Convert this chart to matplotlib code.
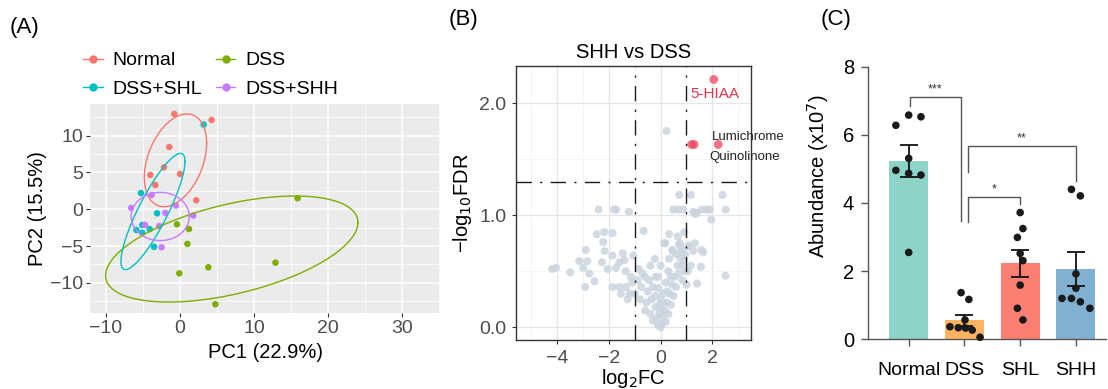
import numpy as np
import matplotlib
matplotlib.use('Agg')
import matplotlib.pyplot as plt
from matplotlib.lines import Line2D

plt.rcParams['font.family'] = ['Liberation Sans', 'DejaVu Sans']

# ---------------- Panel A data (PCA) ----------------
groups = ['Normal', 'DSS', 'DSS+SHL', 'DSS+SHH']
group_colors = ['#F8766D', '#7CAE00', '#00BFC4', '#C77CFF']
normal_pc1 = [-0.77, 4.28, -1.44, -2.16, 0.0, -4.0, -3.33, 2.2]
normal_pc2 = [12.95, 12.13, 8.46, 5.7, 4.8, 4.66, 3.3, 1.22]
dss_pc1 = [15.9, -0.4, 1.22, 1.0, 12.9, 3.83, -0.09, 4.78]
dss_pc2 = [1.5, -2.04, -2.68, -4.7, -7.25, -7.88, -8.7, -12.9]
shl_pc1 = [3.2, -5.27, -3.1, -5.1, -5.9, -5.1, -4.1, -3.5]
shl_pc2 = [11.5, 2.2, -0.55, -2.13, -2.8, -3.2, -2.7, -5.1]
shh_pc1 = [-6.6, -3.83, -1.98, -0.54, 1.8, -4.73, -2.8, -2.48]
shh_pc2 = [0.18, 1.94, -0.5, 0.5, -0.86, -2.13, -2.27, -5.17]
# ellipse parameters (centre, half extents, correlation)
ell_cx = [-0.61, 7.0, -3.65, -2.67]
ell_cy = [6.65, -5.4, -0.3, -0.98]
ell_ax = [4.21, 17.05, 4.33, 3.93]
ell_ay = [6.3, 7.2, 7.9, 3.28]
ell_rho = [0.37, 0.5, 0.86, 0.0]
pc1_label = 'PC1 (22.9%)'
pc2_label = 'PC2 (15.5%)'

# ---------------- Panel B data (volcano) ----------------
grey_fc = [-2.4, -1.8, -1.72, -1.23, 0.49, 0.68, 0.87, 1.26, 1.39, 1.59, 1.78, 1.91, 2.52,
           0.72, 1.17, 2.40, 1.96, 1.34, 0.23,
           -4.2, -4.05, -3.5, -3.15, -3.0, -2.9, -2.84, -2.76, -2.56, -2.92,
           -2.47, -2.18, -1.86, -2.22, -2.17, -2.27, -1.87, -1.6, -2.05, -1.73,
           -1.86, -1.6, -1.34, -1.54, -1.28, -1.47, -1.35, -1.4, -1.15, -1.2,
           -0.66, -1.06, -0.85, -0.7, -0.6, -0.45, -0.22, -0.9, -1.1, -1.0, -0.75, -0.5, -0.3,
           -0.8, -0.55, -0.35, -0.6, -0.4, -0.2, -0.3, -0.15, -0.1, 0.0, 0.05, -0.05, 0.1, 0.2,
           0.15, 0.3, 0.25, 0.4, 0.35, 0.5, 0.45, 0.6, 0.55, 0.7, 0.65, 0.8, 0.75, 0.9, 0.85,
           0.95, 0.1, -0.1, 0.0, -0.2, 0.2, 0.3, 0.0, -0.4, -0.1, -0.05, 0.05, 0.1, -0.2, 0.25,
           0.4, 0.6, 0.8,
           0.33, 0.18, 0.14, 0.48, 0.67, 0.71, 0.92, 1.09, 1.27, 1.58, 1.56, 1.41, 2.51, 1.17,
           1.65, 0.45, 0.81, 0.33, 1.07, 1.33, 0.75, 0.95, 1.05, 1.0]
grey_fdr = [1.05, 1.05, 1.05, 1.03, 1.05, 1.05, 1.05, 1.03, 1.02, 1.05, 1.05, 1.05, 1.05,
            1.18, 1.18, 1.18, 0.96, 1.01, 1.75,
            0.52, 0.53, 0.49, 0.59, 0.53, 0.69, 0.59, 0.48, 0.41, 0.36,
            0.83, 0.85, 0.84, 0.76, 0.68, 0.58, 0.64, 0.58, 0.52, 0.53,
            0.36, 0.36, 0.36, 0.30, 0.25, 0.66, 0.5, 0.6, 0.45, 0.3,
            0.86, 0.64, 0.52, 0.48, 0.45, 0.42, 0.61, 0.42, 0.4, 0.30, 0.36, 0.32, 0.36,
            0.25, 0.22, 0.25, 0.15, 0.12, 0.18, 0.06, 0.08, 0.02, 0.0, 0.03, 0.12, 0.1, 0.05,
            0.15, 0.12, 0.22, 0.2, 0.3, 0.28, 0.38, 0.36, 0.45, 0.48, 0.55, 0.55, 0.62, 0.6, 0.42,
            0.5, 0.3, 0.35, 0.25, 0.45, 0.4, 0.5, 0.55, 0.55, 0.45, 0.2, 0.15, 0.22, 0.28, 0.32,
            0.45, 0.65, 0.7,
            0.83, 0.75, 0.75, 0.68, 0.81, 0.74, 0.85, 0.73, 0.68, 0.69, 0.54, 0.39, 0.46, 0.55,
            0.67, 0.69, 0.67, 0.61, 0.72, 0.75, 0.75, 0.65, 0.5, 0.38]
sig_fc = [2.06, 1.2, 1.3, 2.23]
sig_fdr = [2.21, 1.63, 1.63, 1.63]
fc_cut = 1.0
fdr_cut = 1.3
label_names = ['5-HIAA', 'Lumichrome', 'Quinolinone']
label_fc = [1.17, 1.99, 1.88]
label_fdr = [2.08, 1.70, 1.52]

# ---------------- Panel C data (bars) ----------------
cats = ['Normal', 'DSS', 'SHL', 'SHH']
bar_colors = ['#8DD3C7', '#FDB462', '#FB8072', '#80B1D3']
normal_vals = [6.28, 6.58, 6.53, 5.31, 4.96, 4.87, 4.82, 2.55]
dss_vals = [1.37, 1.17, 0.37, 0.34, 0.57, 0.33, 0.27, 0.06]
shl_vals = [3.72, 3.25, 2.99, 2.52, 2.31, 1.59, 0.91, 0.57]
shh_vals = [4.40, 4.21, 1.92, 1.50, 1.20, 1.20, 1.10, 0.91]
normal_jit = [-0.23, 0, 0.22, 0, -0.23, 0, 0.22, 0]
dss_jit = [-0.06, 0.08, -0.26, -0.11, 0.01, 0.02, 0.14, 0.28]
shl_jit = [0, 0.05, -0.05, 0, 0.05, 0, -0.05, 0.05]
shh_jit = [-0.08, 0.08, 0, 0, -0.25, -0.08, 0.08, 0.25]
cmp_left = [0.02, 1.06, 1.06]
cmp_right = [0.94, 3.0, 2.0]
cmp_top = [7.12, 5.68, 4.18]
cmp_left_end = [6.84, 4.90, 3.45]
cmp_right_end = [3.48, 4.64, 3.97]
cmp_text = ['***', '**', '*']

W, H = 1108, 389
fig = plt.figure(figsize=(W / 100, H / 100), dpi=100)


def ax_px(l, t, r, b):
    return fig.add_axes([l / W, 1 - b / H, (r - l) / W, (b - t) / H])


# ================= Panel A =================
axA = ax_px(90, 104, 440, 313)
axA.set_facecolor('#EBEBEB')
for s in axA.spines.values():
    s.set_visible(False)
axA.set_xlim(-12.16, 35.14)
axA.set_ylim(-14.09, 14.3)
axA.set_xticks([-10, 0, 10, 20, 30])
axA.set_yticks([-10, -5, 0, 5, 10])
axA.set_xticks([-5, 5, 15, 25, 35], minor=True)
axA.set_yticks([-12.5, -7.5, -2.5, 2.5, 7.5, 12.5], minor=True)
axA.set_xticklabels(['\u221210', '0', '10', '20', '30'])
axA.set_yticklabels(['\u221210', '\u22125', '0', '5', '10'])
axA.grid(which='major', color='white', lw=1.1)
axA.grid(which='minor', color='white', lw=0.55)
axA.set_axisbelow(True)
axA.tick_params(which='major', length=3, width=0.8, color='#333333',
                labelsize=14, labelcolor='#4D4D4D', pad=2)
axA.tick_params(which='minor', length=0)

pcs = [(normal_pc1, normal_pc2), (dss_pc1, dss_pc2), (shl_pc1, shl_pc2), (shh_pc1, shh_pc2)]
for (x, y), c in zip(pcs, group_colors):
    axA.scatter(x, y, s=22, color=c, edgecolors='none', zorder=3)
t = np.linspace(0, 2 * np.pi, 300)
for i, c in enumerate(group_colors):
    ex = ell_cx[i] + ell_ax[i] * np.cos(t)
    ey = ell_cy[i] + ell_ay[i] * (ell_rho[i] * np.cos(t) + np.sqrt(1 - ell_rho[i] ** 2) * np.sin(t))
    axA.plot(ex, ey, color=c, lw=1.0, zorder=4)

axA.set_xlabel(pc1_label, fontsize=14.5, labelpad=4)
axA.set_ylabel(pc2_label, fontsize=14.5, labelpad=2)

handles = [Line2D([], [], color=c, marker='o', markersize=5, lw=1.0) for c in group_colors]
order = [0, 2, 1, 3]
axA.legend([handles[i] for i in order], [groups[i] for i in order], ncol=2,
           loc='lower left', bbox_to_anchor=(-0.055, 0.97), frameon=False, fontsize=14,
           handlelength=1.0, handletextpad=0.5, columnspacing=0.7, labelspacing=0.55,
           borderaxespad=0.25)

# ================= Panel B =================
axB = ax_px(516, 66, 751, 340)
axB.set_xlim(-5.6, 3.5)
axB.set_ylim(-0.113, 2.33)
axB.set_xticks([-4, -2, 0, 2])
axB.set_xticklabels(['\u22124', '\u22122', '0', '2'])
axB.set_yticks([0, 1, 2])
axB.set_yticklabels(['0.0', '1.0', '2.0'])
axB.set_xticks([-5, -3, -1, 1, 3], minor=True)
axB.set_yticks([0.5, 1.5], minor=True)
axB.grid(which='major', color='#E5E5E5', lw=0.9)
axB.grid(which='minor', color='#F2F2F2', lw=0.6)
axB.set_axisbelow(True)
for s in axB.spines.values():
    s.set_color('#333333')
    s.set_linewidth(1.0)
axB.tick_params(which='major', length=3, width=0.8, color='#333333',
                labelsize=14, labelcolor='#4D4D4D', pad=4)
axB.tick_params(which='minor', length=0)
axB.scatter(grey_fc, grey_fdr, s=34, color='#CBD5DF', alpha=0.85, edgecolors='none', zorder=2)
axB.scatter(sig_fc, sig_fdr, s=40, color='#F0445C', alpha=0.75, edgecolors='none', zorder=3)
dd = (0, (11, 6, 1.6, 6))
for v in (-fc_cut, fc_cut):
    axB.axvline(v, color='#1A1A1A', lw=1.0, linestyle=dd, zorder=4)
axB.axhline(fdr_cut, color='#1A1A1A', lw=1.0, linestyle=dd, zorder=4)
axB.text(label_fc[0], label_fdr[0], label_names[0], color='#E2334C', fontsize=11,
         ha='left', va='center', clip_on=False)
for i in (1, 2):
    axB.text(label_fc[i], label_fdr[i], label_names[i], color='#222222', fontsize=9.5,
             ha='left', va='center', clip_on=False, zorder=6)
axB.set_title('SHH vs DSS', fontsize=14.5, pad=6)
axB.set_xlabel('log$_2$FC', fontsize=14.5, labelpad=0)
axB.set_ylabel('\u2212log$_{10}$FDR', fontsize=14.5, labelpad=4)

# ================= Panel C =================
axC = ax_px(868, 66.7, 1106, 339.3)
axC.set_xlim(-0.73, 3.54)
axC.set_ylim(0, 8)
for s in ('top', 'right'):
    axC.spines[s].set_visible(False)
for s in ('left', 'bottom'):
    axC.spines[s].set_color('#555555')
    axC.spines[s].set_linewidth(1.0)
vals = [normal_vals, dss_vals, shl_vals, shh_vals]
jits = [normal_jit, dss_jit, shl_jit, shh_jit]
means = [np.mean(v) for v in vals]
sems = [np.std(v, ddof=1) / np.sqrt(len(v)) for v in vals]
xpos = np.arange(len(cats))
axC.bar(xpos, means, width=0.7, color=bar_colors, zorder=2)
axC.errorbar(xpos, means, yerr=sems, fmt='none', ecolor='#111111', elinewidth=1.3,
             capsize=6.5, capthick=1.3, zorder=3)
for i, (v, j) in enumerate(zip(vals, jits)):
    axC.scatter(np.array(j) + i, v, s=30, color='#1A1A1A', edgecolors='none', zorder=4, clip_on=False)
for l, r, tp, le, re, txt in zip(cmp_left, cmp_right, cmp_top, cmp_left_end, cmp_right_end, cmp_text):
    axC.plot([l, l, r, r], [le, tp, tp, re], color='#555555', lw=1.0, zorder=5)
    axC.text((l + r) / 2, tp + 0.03, txt, ha='center', va='bottom', fontsize=9, color='#333333')
axC.set_xticks(xpos)
axC.set_xticklabels(cats)
axC.set_yticks([0, 2, 4, 6, 8])
axC.tick_params(axis='both', length=5, width=1.0, color='#555555', labelsize=14.5, pad=5)
axC.tick_params(axis='x', pad=11, labelsize=14)
axC.set_ylabel('Abundance (x10$^7$)', fontsize=14.5, labelpad=4)
axC.yaxis.set_label_coords(-0.155, 0.60)

# panel letters
fig.text(10 / W, 1 - 27 / H, '(A)', fontsize=16, va='center', ha='left')
fig.text(449 / W, 1 - 19 / H, '(B)', fontsize=16, va='center', ha='left')
fig.text(821 / W, 1 - 20 / H, '(C)', fontsize=16, va='center', ha='left')

fig.savefig('out.png', dpi=100)
